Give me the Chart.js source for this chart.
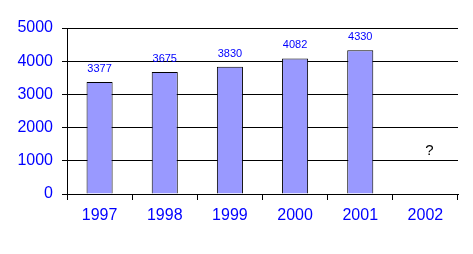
<!DOCTYPE html>
<html>
<head>
<meta charset="utf-8">
<script src="https://cdn.jsdelivr.net/npm/chart.js@4"></script>
<style>
  html, body { margin: 0; padding: 0; background: #fff; }
  #wrap { width: 473px; height: 254px; }
</style>
</head>
<body>
<div id="wrap"><canvas id="chart" width="473" height="254"></canvas></div>
<script>
const years = ['1997', '1998', '1999', '2000', '2001', '2002'];
const values = [3377, 3675, 3830, 4082, 4330, null];
const yTicks = [0, 1000, 2000, 3000, 4000, 5000];
const unknownMark = '?';
const unknownAt = 1300; // where the "?" sits, in axis units

const FONT = 'Arial, "Liberation Sans", sans-serif';

// value labels above the bars and the "?" for the missing year
const labelPlugin = {
  id: 'barLabels',
  afterDatasetsDraw(chart) {
    const ctx = chart.ctx;
    const meta = chart.getDatasetMeta(0);
    ctx.save();
    ctx.textAlign = 'center';
    ctx.textBaseline = 'alphabetic';
    ctx.font = '11px ' + FONT;
    ctx.fillStyle = '#0000ff';
    meta.data.forEach((bar, i) => {
      if (values[i] == null) return;
      ctx.fillText(String(values[i]), bar.x, bar.y - 10);
    });
    const xs = chart.scales.x, ys = chart.scales.y;
    const idx = values.findIndex(v => v == null);
    if (idx >= 0) {
      ctx.font = '15px ' + FONT;
      ctx.fillStyle = '#000';
      ctx.textBaseline = 'middle';
      ctx.fillText(unknownMark, xs.getPixelForValue(idx) + 4, ys.getPixelForValue(unknownAt));
    }
    ctx.restore();
  }
};

new Chart(document.getElementById('chart'), {
  type: 'bar',
  data: {
    labels: years,
    datasets: [{
      data: values,
      backgroundColor: '#9999ff',
      borderColor: '#000',
      borderWidth: 1,
      barPercentage: 0.4,
      categoryPercentage: 1.0
    }]
  },
  options: {
    responsive: false,
    animation: false,
    layout: { padding: { top: 28, right: 15, left: 0, bottom: 0 } },
    plugins: { legend: { display: false }, tooltip: { enabled: false } },
    scales: {
      x: {
        afterFit(scale) { scale.height = 60; },
        grid: { offset: true, drawOnChartArea: false, drawTicks: true, tickLength: 6, color: '#000' },
        border: { display: true, color: '#000', width: 1 },
        ticks: { color: '#0000ff', font: { family: FONT, size: 16 }, padding: 6 }
      },
      y: {
        min: 0,
        max: 5000,
        afterFit(scale) { scale.width = 67; },
        afterBuildTicks(scale) { scale.ticks = yTicks.map(v => ({ value: v })); },
        grid: { color: '#000', lineWidth: 1, tickLength: 5, drawTicks: true },
        border: { display: true, color: '#000', width: 1 },
        ticks: {
          color: '#0000ff',
          font: { family: FONT, size: 16 },
          padding: 9,
          callback: v => String(v)
        }
      }
    }
  },
  plugins: [labelPlugin]
});
</script>
</body>
</html>
